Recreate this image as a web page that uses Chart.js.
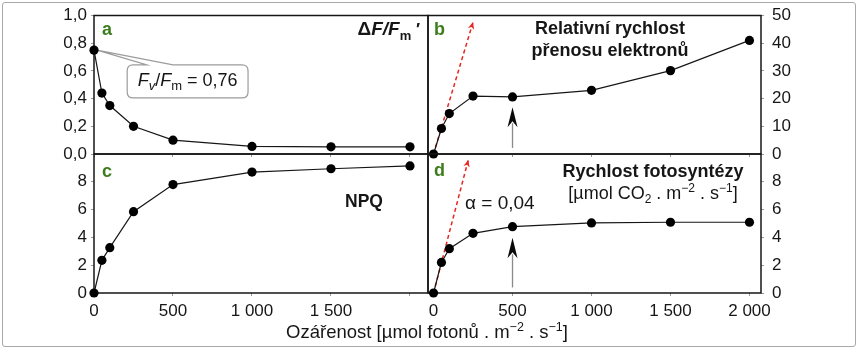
<!DOCTYPE html>
<html><head><meta charset="utf-8">
<script src="https://cdn.jsdelivr.net/npm/chart.js@4/dist/chart.umd.min.js"></script>
<style>
html,body{margin:0;padding:0;background:#fff;}
#wrap{position:relative;width:860px;height:351px;overflow:hidden;background:#fff;}
#frame{position:absolute;left:2px;top:2px;width:852px;height:343px;border:1.5px solid #a9a9a9;border-radius:3px;}
canvas{position:absolute;left:0;top:0;}
</style></head><body>
<div id="wrap"><div id="frame"></div>
<canvas id="cA" width="860" height="351"></canvas>
<canvas id="cB" width="860" height="351"></canvas>
<canvas id="cC" width="860" height="351"></canvas>
<canvas id="cD" width="860" height="351"></canvas>
</div>
<script>
// ---------- data ----------
const irradiance = [0, 50, 100, 250, 500, 1000, 1500, 2000];
const phiPSII = [0.75, 0.44, 0.35, 0.20, 0.10, 0.055, 0.052, 0.052];
const etr = [0, 9.2, 14.6, 20.9, 20.6, 23.0, 30.1, 41.0];
const npq = [0, 2.35, 3.26, 5.85, 7.8, 8.7, 8.94, 9.14];
const photosynthesis = [0, 2.2, 3.19, 4.29, 4.77, 5.04, 5.09, 5.09];
const slopeXB = [0, 250];
const slopeYB = [0, 47.6];
const slopeXD = [0, 220];
const slopeYD = [0, 9.57];
const xTicks = [0, 500, 1000, 1500, 2000];
const xTickLabelsC = ['0', '500', '1 000', '1 500', ''];
const xTickLabelsD = ['0', '500', '1 000', '1 500', '2 000'];
const yTicksA = [0, 0.2, 0.4, 0.6, 0.8, 1.0];
const yTickLabelsA = ['0,0', '0,2', '0,4', '0,6', '0,8', '1,0'];
const yTicksB = [0, 10, 20, 30, 40, 50];
const yTickLabelsB = ['0', '10', '20', '30', '40', '50'];
const yTicksCD = [0, 2, 4, 6, 8, 10];
const yTickLabelsCD = ['0', '2', '4', '6', '8', ''];

// ---------- styling helpers ----------
const FONT = '"Liberation Sans", Arial, Helvetica, sans-serif';
const GREEN = '#3d7d1d';
const RED = '#e8261f';
const INK = '#161616';
const f = (style, size) => `${style} ${size}px ${FONT}`;

function zeroFit(s) {
  if (s.isHorizontal()) s.height = 0; else s.width = 0;
  s.paddingLeft = s.paddingRight = s.paddingTop = s.paddingBottom = 0;
}
// widen the label clip box of the zero-size axes without moving their edge
function openClip(chart) {
  const W = chart.width, H = chart.height;
  Object.values(chart.scales).forEach(s => {
    if (s.position === 'left') s.left = 0;
    else if (s.position === 'right') s.right = W;
    else if (s.position === 'bottom') s.bottom = H;
  });
}
function drawRich(ctx, parts, x, y, align) {
  let w = 0;
  parts.forEach(p => { ctx.font = p.f; w += ctx.measureText(p.t).width; });
  let cx = align === 'center' ? x - w / 2 : align === 'right' ? x - w : x;
  ctx.textAlign = 'left'; ctx.textBaseline = 'alphabetic';
  parts.forEach(p => {
    ctx.font = p.f; ctx.fillStyle = p.c || INK;
    ctx.fillText(p.t, cx, y + (p.dy || 0));
    cx += ctx.measureText(p.t).width;
  });
}
function upArrow(chart, a) {
  const ctx = chart.ctx, xs = chart.scales.x, ys = chart.scales.y;
  const x = xs.getPixelForValue(a.x);
  const y0 = ys.getPixelForValue(a.from), yb = ys.getPixelForValue(a.base), yt = ys.getPixelForValue(a.tip);
  ctx.save();
  ctx.strokeStyle = '#8a8a8a'; ctx.lineWidth = 1.3;
  ctx.beginPath(); ctx.moveTo(x, y0); ctx.lineTo(x, yb - 4); ctx.stroke();
  ctx.fillStyle = '#0a0a0a';
  ctx.beginPath();
  ctx.moveTo(x, yt); ctx.lineTo(x + 5, yb); ctx.lineTo(x, yb - 6); ctx.lineTo(x - 5, yb); ctx.closePath();
  ctx.fill();
  ctx.restore();
}
function slopeHead(chart, xsArr, ysArr) {
  const ctx = chart.ctx, xs = chart.scales.x, ys = chart.scales.y;
  const x1 = xs.getPixelForValue(xsArr[0]), y1 = ys.getPixelForValue(ysArr[0]);
  const x2 = xs.getPixelForValue(xsArr[1]), y2 = ys.getPixelForValue(ysArr[1]);
  const ang = Math.atan2(y2 - y1, x2 - x1);
  ctx.save();
  ctx.translate(x2, y2); ctx.rotate(ang);
  ctx.fillStyle = RED;
  ctx.beginPath(); ctx.moveTo(0, 0); ctx.lineTo(-7, -3.2); ctx.lineTo(-5, 0); ctx.lineTo(-7, 3.2); ctx.closePath();
  ctx.fill();
  ctx.restore();
}
function frame(chart) {
  const ctx = chart.ctx, ca = chart.chartArea;
  ctx.save(); ctx.strokeStyle = INK; ctx.lineWidth = 1.5;
  ctx.strokeRect(ca.left, ca.top, ca.right - ca.left, ca.bottom - ca.top);
  ctx.restore();
}

function mainSet(vals) {
  return {
    data: irradiance.map((x, i) => ({ x, y: vals[i] })),
    borderColor: INK, borderWidth: 1.2, pointRadius: 4.6, pointBackgroundColor: '#000',
    pointBorderWidth: 0, clip: false, tension: 0
  };
}
function slopeSet(xv, yv) {
  return {
    data: xv.map((x, i) => ({ x, y: yv[i] })),
    borderColor: RED, borderWidth: 1.5, borderDash: [4, 3], pointRadius: 0, clip: false
  };
}

function panel(id, o) {
  return new Chart(document.getElementById(id), {
    type: 'line',
    data: { datasets: o.datasets },
    options: {
      responsive: false, animation: false, devicePixelRatio: 1, events: [],
      layout: { padding: o.pad },
      plugins: { legend: { display: false }, tooltip: { enabled: false }, title: { display: false } },
      scales: {
        x: {
          type: 'linear', position: 'bottom', min: o.xr[0], max: o.xr[1],
          afterBuildTicks: s => { s.ticks = xTicks.map(v => ({ value: v })); },
          afterFit: zeroFit,
          ticks: {
            display: !!o.xLabels, autoSkip: false, maxRotation: 0, padding: 5, color: INK,
            font: { family: FONT, size: 17 },
            callback: (v, i) => o.xLabels ? o.xLabels[i] : ''
          },
          grid: { display: true, drawOnChartArea: false, drawTicks: true, tickLength: 3, color: '#999' },
          border: { display: false }
        },
        y: {
          type: 'linear', position: o.yPos, min: o.yr[0], max: o.yr[1],
          afterBuildTicks: s => { s.ticks = o.yTicks.map(v => ({ value: v })); },
          afterFit: zeroFit,
          ticks: {
            autoSkip: false, padding: o.yPos === 'left' ? 4 : 8, color: INK,
            font: { family: FONT, size: 17 },
            callback: (v, i) => o.yLabels[i]
          },
          grid: { display: true, drawOnChartArea: false, drawTicks: true, tickLength: 3, color: '#999' },
          border: { display: false }
        }
      }
    },
    plugins: [{
      id: 'deco',
      afterLayout: openClip,
      beforeDatasetsDraw: c => { frame(c); if (o.before) o.before(c); },
      afterDraw: c => o.after(c)
    }]
  });
}

// ---------- panel a ----------
const calloutA = { x0: 210, x1: 975, yTop: 0.643, yBottom: 0.405, w0: 335, w1: 500 };
panel('cA', {
  pad: { left: 94, top: 15.5, right: 432, bottom: 197 },
  xr: [0, 2114], yr: [0, 1.0], yPos: 'left', yTicks: yTicksA, yLabels: yTickLabelsA,
  datasets: [mainSet(phiPSII)],
  before: c => {
    const ctx = c.ctx, xs = c.scales.x, ys = c.scales.y;
    const px = xs.getPixelForValue(irradiance[0]), py = ys.getPixelForValue(phiPSII[0]);
    const l = xs.getPixelForValue(calloutA.x0), r = xs.getPixelForValue(calloutA.x1);
    const t = ys.getPixelForValue(calloutA.yTop), b = ys.getPixelForValue(calloutA.yBottom);
    const w0 = xs.getPixelForValue(calloutA.w0), w1 = xs.getPixelForValue(calloutA.w1);
    const rad = 6;
    ctx.save();
    ctx.beginPath();
    ctx.moveTo(l + rad, t); ctx.lineTo(w0, t); ctx.lineTo(px + 3, py); ctx.lineTo(w1, t);
    ctx.lineTo(r - rad, t); ctx.quadraticCurveTo(r, t, r, t + rad);
    ctx.lineTo(r, b - rad); ctx.quadraticCurveTo(r, b, r - rad, b);
    ctx.lineTo(l + rad, b); ctx.quadraticCurveTo(l, b, l, b - rad);
    ctx.lineTo(l, t + rad); ctx.quadraticCurveTo(l, t, l + rad, t);
    ctx.closePath();
    ctx.fillStyle = '#fff'; ctx.fill();
    ctx.strokeStyle = '#9c9c9c'; ctx.lineWidth = 1.2; ctx.stroke();
    drawRich(ctx, [
      { t: 'F', f: f('italic', 18) }, { t: 'v', f: f('italic', 13), dy: 4 },
      { t: '/', f: f('normal', 18) }, { t: 'F', f: f('italic', 18) },
      { t: 'm', f: f('normal', 13), dy: 4 }, { t: ' = 0,76', f: f('normal', 18) }
    ], (l + r) / 2, (t + b) / 2 + 5, 'center');
    ctx.restore();
  },
  after: c => {
    const ctx = c.ctx, ca = c.chartArea;
    drawRich(ctx, [{ t: 'a', f: f('bold', 18), c: GREEN }], ca.left + 8, ca.top + 19.5, 'left');
    drawRich(ctx, [
      { t: 'Δ', f: f('bold', 19) }, { t: 'F/F', f: f('bold italic', 19) },
      { t: 'm', f: f('bold', 13), dy: 5 }, { t: ' ′', f: f('bold', 17) }
    ], ca.right - 8, ca.top + 19.5, 'right');
  }
});

// ---------- panel b ----------
const arrowB = { x: 500, from: 2.2, base: 9.7, tip: 16.9 };
panel('cB', {
  pad: { left: 428, top: 15.5, right: 99, bottom: 197 },
  xr: [-35, 2073], yr: [0, 50], yPos: 'right', yTicks: yTicksB, yLabels: yTickLabelsB,
  datasets: [mainSet(etr), slopeSet(slopeXB, slopeYB)],
  after: c => {
    const ctx = c.ctx, ca = c.chartArea;
    slopeHead(c, slopeXB, slopeYB);
    upArrow(c, arrowB);
    drawRich(ctx, [{ t: 'b', f: f('bold', 18), c: GREEN }], ca.left + 6, ca.top + 19.5, 'left');
    drawRich(ctx, [{ t: 'Relativní rychlost', f: f('bold', 18) }], ca.left + 182, ca.top + 18.5, 'center');
    drawRich(ctx, [{ t: 'přenosu elektronů', f: f('bold', 18) }], ca.left + 182, ca.top + 40.5, 'center');
  }
});

// ---------- panel c ----------
panel('cC', {
  pad: { left: 94, top: 154, right: 432, bottom: 58 },
  xr: [0, 2114], yr: [0, 10], yPos: 'left', yTicks: yTicksCD, yLabels: yTickLabelsCD,
  xLabels: xTickLabelsC,
  datasets: [mainSet(npq)],
  after: c => {
    const ctx = c.ctx, ca = c.chartArea;
    drawRich(ctx, [{ t: 'c', f: f('bold', 18), c: GREEN }], ca.left + 8, ca.top + 22.5, 'left');
    drawRich(ctx, [{ t: 'NPQ', f: f('bold', 17.5) }], ca.left + 270, ca.top + 53, 'center');
    drawRich(ctx, [
      { t: 'Ozářenost [µmol fotonů . m', f: f('normal', 18.5) },
      { t: '−2', f: f('normal', 12.5), dy: -7 },
      { t: ' . s', f: f('normal', 18.5) },
      { t: '−1', f: f('normal', 12.5), dy: -7 },
      { t: ']', f: f('normal', 18.5) }
    ], ca.right - 1, ca.bottom + 45, 'center');
  }
});

// ---------- panel d ----------
const arrowD = { x: 500, from: 0.4, base: 2.5, tip: 3.98 };
panel('cD', {
  pad: { left: 428, top: 154, right: 99, bottom: 58 },
  xr: [-35, 2073], yr: [0, 10], yPos: 'right', yTicks: yTicksCD, yLabels: yTickLabelsCD,
  xLabels: xTickLabelsD,
  datasets: [mainSet(photosynthesis), slopeSet(slopeXD, slopeYD)],
  after: c => {
    const ctx = c.ctx, ca = c.chartArea;
    slopeHead(c, slopeXD, slopeYD);
    upArrow(c, arrowD);
    drawRich(ctx, [{ t: 'd', f: f('bold', 18), c: GREEN }], ca.left + 6, ca.top + 22, 'left');
    drawRich(ctx, [{ t: 'Rychlost fotosyntézy', f: f('bold', 18) }], ca.left + 225, ca.top + 22.5, 'center');
    drawRich(ctx, [
      { t: '[µmol CO', f: f('normal', 18) }, { t: '2', f: f('normal', 12), dy: 4 },
      { t: ' . m', f: f('normal', 18) }, { t: '−2', f: f('normal', 12), dy: -7 },
      { t: ' . s', f: f('normal', 18) }, { t: '−1', f: f('normal', 12), dy: -7 },
      { t: ']', f: f('normal', 18) }
    ], ca.left + 225, ca.top + 44.5, 'center');
    drawRich(ctx, [{ t: 'α = 0,04', f: f('normal', 19) }], ca.left + 37, ca.top + 55, 'left');
  }
});
</script>
</body></html>
